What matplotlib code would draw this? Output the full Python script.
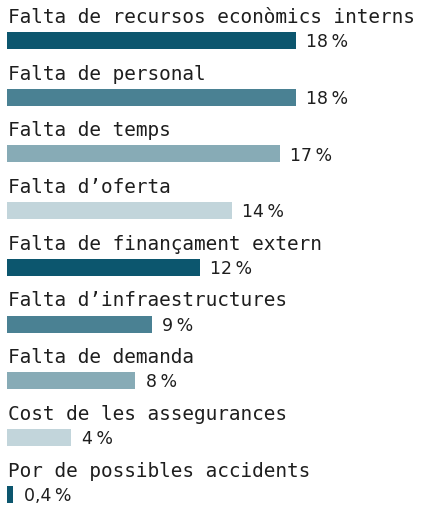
import matplotlib
matplotlib.use("Agg")
import matplotlib.pyplot as plt

# Data
labels = ["Falta de recursos econòmics interns", "Falta de personal",
          "Falta de temps", "Falta d\u2019oferta", "Falta de finançament extern",
          "Falta d\u2019infraestructures", "Falta de demanda",
          "Cost de les assegurances", "Por de possibles accidents"]
values = [18, 18, 17, 14, 12, 9, 8, 4, 0.4]
value_labels = ["18\u2009%", "18\u2009%", "17\u2009%", "14\u2009%", "12\u2009%",
                "9\u2009%", "8\u2009%", "4\u2009%", "0,4\u2009%"]
palette = ["#0c566e", "#4a8193", "#87abb6", "#c2d5db"]

W, H = 422, 506
fig = plt.figure(figsize=(W / 100, H / 100), dpi=100)

# axes spanning the figure, scaled so each row is ~56.7 px apart
px_per_row = 56.7
first_center = 41.5
ax = fig.add_axes([7 / W, 0, (W - 7) / W, 1])
px_per_pct = (296 - 7) / 18.0
ax.set_xlim(0, (W - 7) / px_per_pct)
ax.set_ylim((H - first_center) / px_per_row, -first_center / px_per_row)
ax.axis("off")

bar_h = 17 / px_per_row
rows = list(range(len(values)))
colors = [palette[i % len(palette)] for i in rows]
ax.barh(rows, values, height=bar_h, color=colors, linewidth=0)

txt_color = "#1e1e1e"
for i, (lab, v, vl) in enumerate(zip(labels, values, value_labels)):
    ax.text(0.05, i - bar_h / 2 - 10 / px_per_row, lab, family="DejaVu Sans Mono",
            fontsize=13.95, color=txt_color, va="baseline", ha="left")
    ax.annotate(vl, (v, i), xytext=(7.5, -0.5), textcoords="offset points",
                family="DejaVu Sans", fontsize=12.5, color=txt_color,
                va="center", ha="left")

fig.savefig("out.png", dpi=100)
